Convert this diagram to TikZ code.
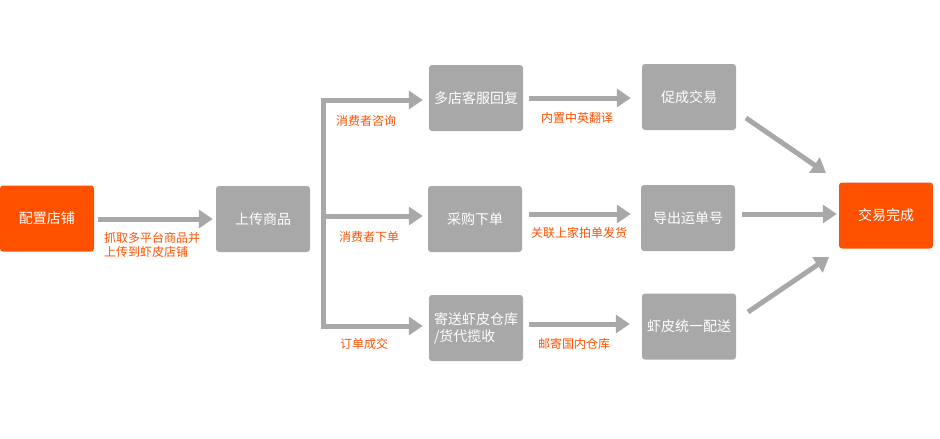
\documentclass[tikz,border=0pt]{standalone}
\usepackage{fontspec}
\setmainfont{Noto Sans CJK SC}
\usetikzlibrary{arrows.meta}
\definecolor{og}{HTML}{FF5000}
\definecolor{gy}{HTML}{A8A8A8}
\begin{document}
\begin{tikzpicture}[x=1pt,y=-1pt,
 box/.style={rounded corners=3pt, minimum width=94pt, minimum height=66pt, inner sep=0pt, text=white, font=\fontsize{14pt}{17pt}\selectfont, align=center},
 gbox/.style={box, fill=gy},
 obox/.style={box, fill=og},
 conn/.style={draw=gy, line width=5pt},
 arr/.style={conn, -{Triangle[length=14pt,width=18pt]}},
 lbl/.style={text=og, font=\fontsize{12pt}{14pt}\selectfont, inner sep=0pt, align=left}]
\useasboundingbox (0,0) rectangle (940,439);
% nodes
\node[obox] (a) at (47,218.5) {配置店铺};
\node[gbox] (b) at (263,219) {上传商品};
\node[gbox] (c1) at (476,98) {多店客服回复};
\node[gbox] (c2) at (475,219) {采购下单};
\node[gbox, align=left] (c3) at (476,328) {寄送虾皮仓库\\/货代揽收};
\node[gbox] (d1) at (689,97) {促成交易};
\node[gbox] (d2) at (688,218) {导出运单号};
\node[gbox] (d3) at (689,326.5) {虾皮统一配送};
\node[obox] (e) at (886,215.5) {交易完成};
% trunk
\coordinate (t1) at (323,100);
\coordinate (t2) at (323,216);
\coordinate (t3) at (323,326);
\draw[conn, line cap=rect] (t1) -- (t3);
\draw[arr, shorten >=6pt] (t1) -- (t1 -| c1.west);
\draw[arr, shorten >=5pt] (t2) -- (t2 -| c2.west);
\draw[arr, shorten >=6pt] (t3) -- (t3 -| c3.west);
% first arrow
\draw[arr, shorten <=4pt, shorten >=3pt] (a.east |- 0,219) -- (b.west |- 0,219);
% second column arrows
\draw[arr, shorten <=6pt, shorten >=11pt] (c1.east |- 0,98) -- (d1.west |- 0,98);
\draw[arr, shorten <=7pt, shorten >=10pt] (c2.east |- 0,214) -- (d2.west |- 0,214);
\draw[arr, shorten <=6pt, shorten >=12pt] (c3.east |- 0,324) -- (d3.west |- 0,324);
% to final
\coordinate (p1) at (746,118);
\coordinate (q1) at (826,173);
\coordinate (p3) at (748,312);
\coordinate (q3) at (829,257);
\draw[arr] (p1) -- (q1);
\draw[arr, shorten <=7pt, shorten >=2pt] (d2.east |- 0,214) -- (e.west |- 0,214);
\draw[arr] (p3) -- (q3);
% labels
\node[lbl, anchor=north west] (l0) at (104,232) {抓取多平台商品并\\上传到虾皮店铺};
\node[lbl] (l1) at (366,121) {消费者咨询};
\node[lbl] (l2) at (369,237) {消费者下单};
\node[lbl] (l3) at (364,344) {订单成交};
\node[lbl] (m1) at (577,118) {内置中英翻译};
\node[lbl] (m2) at (579,233) {关联上家拍单发货};
\node[lbl] (m3) at (574,344) {邮寄国内仓库};
\end{tikzpicture}
\end{document}
